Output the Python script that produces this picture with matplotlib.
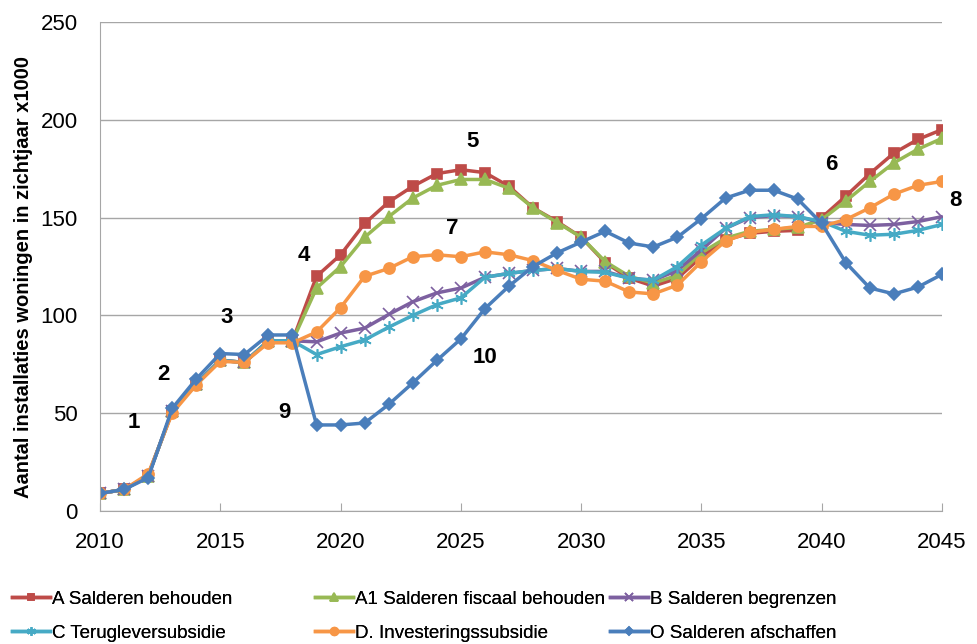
import matplotlib
matplotlib.use("Agg")
import matplotlib.pyplot as plt

plt.rcParams['font.family'] = ['Liberation Sans', 'DejaVu Sans']

years = list(range(2010, 2046))

# A Salderen behouden
a_behouden = [9, 11, 18, 51, 65, 77, 76, 87, 87,
              120, 131, 147, 158, 166, 172.5, 174.5, 173, 166, 155, 148, 140,
              127, 119, 115, 119, 130, 138.5, 142, 143, 143.5, 150,
              161, 172.5, 183, 190, 195]
# A1 Salderen fiscaal behouden
a1_fiscaal = [9, 11, 18, 51, 65, 77, 76, 87, 87,
              114, 125, 140, 150.5, 160, 166.5, 169.5, 169.5, 165, 155, 147.5, 140,
              127.5, 120, 116.5, 120.5, 132, 139.5, 143, 144, 145, 149,
              158.5, 168.5, 178, 185, 190.5]
# B Salderen begrenzen
b_begrenzen = [9, 11, 18, 51, 65, 77, 76, 87, 87,
               86.5, 91, 93.5, 100.5, 107, 111.5, 114, 119.5, 121.5, 123, 124, 122.5,
               122.5, 119, 118, 123, 133.5, 144.5, 150, 151, 150.5, 147.5,
               146.5, 146, 146.5, 148, 150.5]
# C Terugleversubsidie
c_teruglever = [9, 11, 18, 51, 65, 77, 76, 87, 87,
                80, 84, 87.5, 94, 100, 105.5, 109, 119.5, 121.5, 123, 124, 122.5,
                122, 119, 118, 125, 136, 144.5, 150.5, 151.5, 150.5, 148,
                143, 141, 141.5, 143.5, 146.5]
# D. Investeringssubsidie
d_investering = [9, 11, 19, 50, 64.5, 76.5, 76, 86, 86,
                 91.5, 104, 120, 124, 130, 131, 130, 132.5, 131, 128, 123, 118.5,
                 117.5, 112, 111, 115.5, 127.5, 138, 142.5, 144, 145.5, 145.5,
                 149, 155, 162, 166.5, 168.5]
# O Salderen afschaffen
o_afschaffen = [9, 11, 17, 52.5, 67.5, 80.5, 80, 90, 90,
                44, 44, 45, 54.5, 65.5, 77, 88, 103.5, 115, 125, 132, 137.5,
                143, 137, 135, 140, 149.5, 160, 164, 164, 159.5, 147,
                127, 114, 111, 114.5, 121]

series = [
    ("A Salderen behouden", a_behouden, "#BE4B48", "s", 7),
    ("A1 Salderen fiscaal behouden", a1_fiscaal, "#98B954", "^", 8),
    ("B Salderen begrenzen", b_begrenzen, "#7D60A0", "x", 8),
    ("C Terugleversubsidie", c_teruglever, "#46AAC5", (6, 2, 0), 9),
    ("D. Investeringssubsidie", d_investering, "#F79646", "o", 8),
    ("O Salderen afschaffen", o_afschaffen, "#4A7EBB", "D", 6),
]

# numbered annotations (label, x, y)
notes = [("1", 2011.4, 45.5), ("2", 2012.65, 70), ("3", 2015.25, 98.7),
         ("4", 2018.45, 130.8), ("5", 2025.5, 188.7), ("7", 2024.65, 144.6),
         ("6", 2040.4, 177), ("8", 2045.55, 159), ("9", 2017.65, 50.6),
         ("10", 2026.0, 78.7)]

fig = plt.figure(figsize=(9.77, 6.44), dpi=100)
ax = fig.add_axes([0.1024, 0.2065, 0.8618, 0.7593])

handles = {}
for name, vals, col, mk, ms in series:
    line, = ax.plot(years, vals, color=col, lw=2.5, marker=mk, markersize=ms,
                    markeredgecolor=col, markeredgewidth=1.2, label=name)
    handles[name] = line

for txt, x, y in notes:
    ax.text(x, y, txt, fontsize=16, fontweight='bold', ha='center', va='center',
            clip_on=False)

ax.set_xlim(2010, 2045)
ax.set_ylim(0, 250)
ax.set_xticks(range(2010, 2046, 5))
ax.set_yticks(range(0, 251, 50))
ax.grid(axis='y', color='#a6a6a6', lw=1)
ax.set_axisbelow(True)
for s in ['top', 'right']:
    ax.spines[s].set_visible(False)
ax.spines['left'].set_color('#a6a6a6')
ax.spines['bottom'].set_color('#a6a6a6')
ax.tick_params(axis='x', direction='in', length=6, color='#a6a6a6',
               labelsize=16, pad=15)
ax.tick_params(axis='y', length=0, labelsize=16, pad=16)
ax.set_ylabel("Aantal installaties woningen in zichtjaar x1000",
              fontsize=14.5, fontweight='bold')
ax.yaxis.set_label_coords(-0.08, 0.478)

# legend: three columns positioned like the original
cols = [(["A Salderen behouden", "C Terugleversubsidie"], 12 / 977),
        (["A1 Salderen fiscaal behouden", "D. Investeringssubsidie"], 315 / 977),
        (["B Salderen begrenzen", "O Salderen afschaffen"], 610 / 977)]
for names, xpos in cols:
    leg = fig.legend([handles[n] for n in names], names, loc='lower left',
                     bbox_to_anchor=(xpos, 2 / 644), frameon=False, fontsize=13.5,
                     handlelength=2.0, handletextpad=0.15, labelspacing=0.9,
                     borderpad=0, borderaxespad=0, markerscale=0.7)
    fig.add_artist(leg)

fig.savefig("out.png", dpi=100)
